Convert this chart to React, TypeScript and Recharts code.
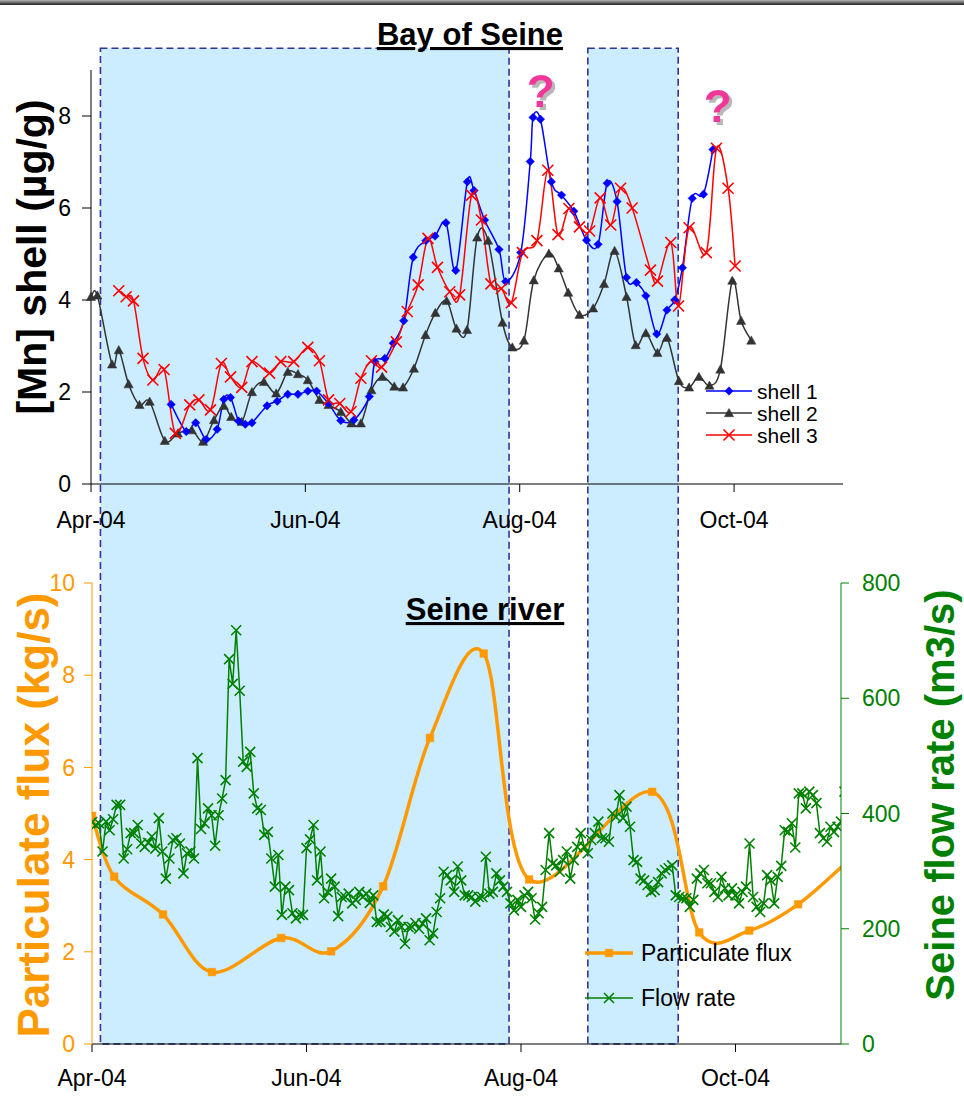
import React from 'react';
import { LineChart, Line, XAxis, YAxis, ReferenceArea, ReferenceDot, Legend, Label } from 'recharts';

const FONT = '"Liberation Sans", Arial, sans-serif';

// x axis: days since 1 April 2004
const monthTicks = [0, 61, 122, 183];
const monthLabels = ['Apr-04', 'Jun-04', 'Aug-04', 'Oct-04'];

// shaded periods (days)
const shadeStart = [2.4, 141];
const shadeEnd = [118.6, 166.7];
const shadeTop = 21.6; // in particulate-flux units, reaches up over the top panel

// Bay of Seine — [Mn] in shells (µg/g)
const shell1Days = [22.8, 27.1, 29.8, 32.8, 35.9, 37.8, 39.7, 42.0, 43.9, 45.8, 50.1, 53.0, 56.0, 58.9, 61.7, 64.2, 67.6, 71.1, 74.8, 79.2, 80.8, 83.6, 86.0, 89.0, 91.7, 95.3, 97.9, 101.0, 103.8, 107.1, 109.0, 112.0, 116.1, 118.0, 122.3, 125.0, 125.8, 127.9, 131.0, 133.9, 137.4, 141.0, 144.3, 146.9, 149.7, 152.4, 155.2, 157.9, 161.0, 163.9, 166.1, 168.3, 171.1, 174.3, 177.0];
const shell1Values = [1.73, 1.14, 1.33, 0.97, 1.19, 1.84, 1.88, 1.37, 1.30, 1.33, 1.70, 1.80, 1.95, 1.95, 2.02, 2.02, 1.75, 1.38, 1.39, 1.90, 2.66, 2.73, 3.06, 3.55, 4.93, 5.29, 5.39, 5.68, 4.64, 6.57, 6.38, 5.74, 5.10, 4.40, 5.03, 7.01, 7.97, 7.93, 6.57, 6.28, 5.93, 5.30, 5.21, 6.54, 6.14, 4.49, 4.38, 4.09, 3.26, 3.78, 4.00, 4.70, 6.21, 6.30, 7.27];

const shell2Days = [0, 1.8, 6.0, 7.9, 10.7, 13.8, 16.7, 21.0, 24.7, 28.7, 31.9, 35.0, 37.8, 39.9, 42.9, 45.8, 49.2, 52.7, 56.0, 58.9, 61.7, 65.0, 67.6, 71.1, 74.1, 76.8, 79.8, 82.9, 86.3, 88.8, 91.9, 95.2, 98.0, 101.2, 104.0, 107.0, 109.9, 113.0, 117.1, 119.9, 123.2, 126.0, 130.3, 133.1, 135.8, 139.0, 142.9, 146.0, 149.0, 152.4, 155.0, 157.9, 161.2, 163.9, 167.3, 170.2, 173.0, 176.0, 179.1, 182.5, 185.0, 187.9];
const shell2Values = [4.07, 4.10, 2.60, 2.91, 2.17, 1.72, 1.79, 0.94, 1.10, 1.17, 0.92, 1.39, 1.70, 1.46, 1.35, 2.00, 2.22, 1.97, 2.44, 2.39, 2.26, 1.83, 1.72, 1.57, 1.32, 1.32, 2.04, 2.33, 2.12, 2.10, 2.51, 3.24, 3.72, 3.98, 3.38, 3.35, 5.36, 5.29, 3.51, 2.97, 3.12, 4.43, 5.01, 4.69, 4.16, 3.68, 3.82, 4.35, 5.07, 4.07, 3.02, 3.28, 2.85, 3.18, 2.24, 2.10, 2.33, 2.14, 2.49, 4.42, 3.55, 3.12];

const shell3Days = [7.9, 10.0, 12.1, 14.8, 17.6, 20.8, 24.0, 28.1, 30.7, 34.0, 37.1, 39.7, 42.9, 45.8, 50.8, 54.0, 57.7, 61.7, 65.0, 67.6, 70.8, 74.0, 76.8, 79.8, 82.7, 86.9, 90.0, 93.1, 95.9, 98.6, 102.1, 104.9, 108.3, 111.1, 113.8, 116.8, 119.6, 122.8, 126.9, 130.0, 132.9, 136.0, 139.0, 141.9, 144.9, 147.9, 150.7, 154.0, 159.2, 161.2, 165.0, 167.2, 170.2, 175.1, 178.0, 181.3, 183.3];
const shell3Values = [4.20, 4.07, 3.98, 2.73, 2.26, 2.49, 1.10, 1.72, 1.83, 1.61, 2.62, 2.33, 2.10, 2.66, 2.41, 2.66, 2.66, 2.97, 2.68, 1.83, 1.75, 1.57, 2.30, 2.68, 2.54, 3.09, 3.75, 4.33, 5.34, 4.71, 4.18, 4.11, 6.28, 5.74, 4.35, 4.25, 3.94, 5.03, 5.29, 6.82, 5.42, 5.99, 5.59, 5.50, 6.22, 5.63, 6.43, 6.00, 4.65, 4.41, 5.25, 3.87, 5.57, 5.03, 7.30, 6.43, 4.74];

// question marks over unexplained peaks
const questionDays = [128, 178.4];
const questionLevels = [8.2, 7.87];

// Seine river — particulate flux (kg/s)
const fluxDays = [0, 6.3, 20.2, 34.1, 53.8, 68.0, 82.8, 96.1, 111.4, 124.3, 159.3, 172.7, 186.9, 200.8, 215];
const fluxValues = [4.95, 3.63, 2.81, 1.56, 2.30, 2.01, 3.42, 6.64, 8.47, 3.57, 5.47, 2.42, 2.46, 3.03, 3.97];

// Seine river — daily flow rate (m3/s), from 1 April 2004
const flowValues = [
  385, 380, 383, 334, 386, 371, 390, 415, 415, 322,
  338, 366, 366, 380, 348, 342, 349, 360, 339, 392,
  334, 287, 322, 354, 357, 348, 296, 331, 334, 322,
  496, 373, 383, 409, 397, 344, 397, 426, 458, 668,
  625, 718, 613, 490, 481, 507, 435, 409, 406, 363,
  368, 322, 273, 328, 224, 273, 267, 227, 218, 224,
  224, 340, 355, 380, 284, 334, 253, 264, 287, 273,
  222, 255, 255, 261, 244, 250, 264, 255, 261, 245,
  258, 212, 212, 225, 221, 203, 195, 215, 203, 174,
  203, 203, 210, 200, 209, 218, 180, 192, 229, 253,
  299, 293, 284, 264, 308, 284, 258, 258, 255, 247,
  255, 255, 325, 261, 264, 296, 284, 273, 264, 244,
  232, 250, 238, 258, 264, 253, 216, 227, 238, 302,
  366, 313, 310, 299, 319, 334, 287, 319, 342, 366,
  342, 331, 354, 366, 386, 357, 357, 351, 400, 394,
  432, 392, 412, 377, 319, 316, 287, 284, 276, 264,
  267, 281, 296, 302, 305, 310, 258, 255, 253, 253,
  238, 250, 287, 296, 302, 279, 279, 264, 255, 290,
  270, 258, 270, 258, 244, 264, 273, 348, 255, 238,
  229, 244, 293, 284, 244, 290, 309, 371, 368, 383,
  341, 435, 435, 409, 438, 432, 418, 366, 357, 351,
  377, 368, 377, 386, 438, 429, 410,
];

const toSeries = (days: number[], values: number[]) => days.map((d, i) => ({ day: d, v: values[i] }));
const shell1Data = toSeries(shell1Days, shell1Values);
const shell2Data = toSeries(shell2Days, shell2Values);
const shell3Data = toSeries(shell3Days, shell3Values);
const fluxData = toSeries(fluxDays, fluxValues);
const flowData = flowValues.map((v, i) => ({ day: i, v }));

const fmt = (d: number) => {
  const i = monthTicks.indexOf(d);
  return i >= 0 ? monthLabels[i] : '';
};

// Excel-like smoothed line (Catmull-Rom through the points)
function excelSmooth(context: any) {
  let pts: number[][] = [];
  return {
    areaStart() {},
    areaEnd() {},
    lineStart() {
      pts = [];
    },
    point(x: number, y: number) {
      pts.push([+x, +y]);
    },
    lineEnd() {
      const n = pts.length;
      if (!n) return;
      context.moveTo(pts[0][0], pts[0][1]);
      for (let i = 0; i < n - 1; i++) {
        const p0 = pts[Math.max(0, i - 1)];
        const p1 = pts[i];
        const p2 = pts[i + 1];
        const p3 = pts[Math.min(n - 1, i + 2)];
        context.bezierCurveTo(
          p1[0] + (p2[0] - p0[0]) / 6,
          p1[1] + (p2[1] - p0[1]) / 6,
          p2[0] - (p3[0] - p1[0]) / 6,
          p2[1] - (p3[1] - p1[1]) / 6,
          p2[0],
          p2[1]
        );
      }
    },
  };
}

// marker shapes
const diamondPath = (cx: number, cy: number, r: number) => `M${cx},${cy - r}L${cx + r},${cy}L${cx},${cy + r}L${cx - r},${cy}Z`;
const trianglePath = (cx: number, cy: number, r: number) => `M${cx},${cy - r}L${cx + r},${cy + r * 0.8}L${cx - r},${cy + r * 0.8}Z`;
const crossPath = (cx: number, cy: number, r: number) => `M${cx - r},${cy - r}L${cx + r},${cy + r}M${cx - r},${cy + r}L${cx + r},${cy - r}`;
const squarePath = (cx: number, cy: number, r: number) => `M${cx - r},${cy - r}H${cx + r}V${cy + r}H${cx - r}Z`;

function Marker({ kind, cx, cy, color }: { kind: string; cx: number; cy: number; color: string }) {
  if (kind === 'diamond') return <path d={diamondPath(cx, cy, 4.2)} fill={color} stroke={color} strokeWidth={0.5} />;
  if (kind === 'triangle') return <path d={trianglePath(cx, cy, 4.6)} fill={color} stroke={color} strokeWidth={0.5} />;
  if (kind === 'square') return <path d={squarePath(cx, cy, 3.8)} fill={color} stroke={color} strokeWidth={0.5} />;
  return <path d={crossPath(cx, cy, kind === 'bigcross' ? 5.5 : 5)} fill="none" stroke={color} strokeWidth={1.6} />;
}

const makeDot = (kind: string, color: string) => (props: any) => {
  const { cx, cy, index } = props;
  if (cx == null || cy == null || isNaN(cx) || isNaN(cy)) return <g key={`e-${kind}-${index}`} />;
  return (
    <g key={`m-${kind}-${index}`}>
      <Marker kind={kind} cx={cx} cy={cy} color={color} />
    </g>
  );
};

const topLegendItems = [
  { name: 'shell 1', color: '#0000FF', kind: 'diamond' },
  { name: 'shell 2', color: '#333333', kind: 'triangle' },
  { name: 'shell 3', color: '#FF0000', kind: 'bigcross' },
];

const bottomLegendItems = [
  { name: 'Particulate flux', color: '#FF9900', kind: 'square', width: 3.5 },
  { name: 'Flow rate', color: '#008000', kind: 'cross', width: 1.5 },
];

const TopLegend = () => (
  <svg width={140} height={70} style={{ overflow: 'visible' }}>
    {topLegendItems.map((it, i) => {
      const y = 11 + i * 22;
      return (
        <g key={it.name}>
          <line x1={0} x2={46} y1={y} y2={y} stroke={it.color} strokeWidth={1.5} />
          <Marker kind={it.kind} cx={23} cy={y} color={it.color} />
          <text x={51} y={y} dy="0.36em" fontSize={21} fontFamily={FONT} fill="#000">
            {it.name}
          </text>
        </g>
      );
    })}
  </svg>
);

const BottomLegend = () => (
  <svg width={240} height={90} style={{ overflow: 'visible' }}>
    {bottomLegendItems.map((it, i) => {
      const y = 18 + i * 45;
      return (
        <g key={it.name}>
          <line x1={1} x2={49} y1={y} y2={y} stroke={it.color} strokeWidth={it.width} />
          <Marker kind={it.kind} cx={25} cy={y} color={it.color} />
          <text x={57} y={y} dy="0.36em" fontSize={23} fontFamily={FONT} fill="#000">
            {it.name}
          </text>
        </g>
      );
    })}
  </svg>
);

const questionMark = (props: any) => {
  const { cx, cy } = props;
  return (
    <g>
      <defs>
        <filter id="qshadow" x="-50%" y="-50%" width="200%" height="200%">
          <feDropShadow dx={3} dy={3} stdDeviation={0.6} floodColor="#b8b8b8" floodOpacity={1} />
        </filter>
      </defs>
      <text x={cx} y={cy} textAnchor="middle" fontSize={46} fontWeight="bold" fontFamily={FONT} fill="#F0399B" filter="url(#qshadow)">?</text>
    </g>
  );
};

const axisTick = (color: string) => ({ fontSize: 23, fill: color, fontFamily: FONT });

function TopChart() {
  return (
    <LineChart width={964} height={540} margin={{ top: 70, right: 121, bottom: 0, left: 0 }}>
      <XAxis
        type="number"
        dataKey="day"
        domain={[0, 214]}
        ticks={monthTicks}
        interval={0}
        tickFormatter={fmt}
        height={56}
        stroke="#000"
        tickSize={8}
        tickMargin={20}
        tick={axisTick('#000')}
      />
      <YAxis
        type="number"
        domain={[0, 9]}
        ticks={[0, 2, 4, 6, 8]}
        interval={0}
        width={91}
        stroke="#000"
        tickSize={9}
        tickMargin={11}
        tick={axisTick('#000')}
      >
        <Label
          content={() => (
            <g>
              <text x={470} y={45} textAnchor="middle" fontSize={31} fontWeight="bold" fontFamily={FONT} fill="#000" textDecoration="underline">
                Bay of Seine
              </text>
              <text x={31} y={257} transform="rotate(-90 31 257)" textAnchor="middle" dy="0.36em" fontSize={41} fontWeight="bold" fontFamily={FONT} fill="#000">
                [Mn] shell (µg/g)
              </text>
            </g>
          )}
        />
      </YAxis>
      <Legend
        layout="vertical"
        align="center"
        verticalAlign="middle"
        content={() => <TopLegend />}
        wrapperStyle={{ left: 706, top: 380, width: 140, height: 70 }}
      />
      <Line data={shell2Data} dataKey="v" type={excelSmooth as any} stroke="#333333" strokeWidth={1.5} dot={makeDot('triangle', '#333333')} isAnimationActive={false} />
      <Line data={shell1Data} dataKey="v" type={excelSmooth as any} stroke="#0000FF" strokeWidth={1.5} dot={makeDot('diamond', '#0000FF')} isAnimationActive={false} />
      <Line data={shell3Data} dataKey="v" type={excelSmooth as any} stroke="#FF0000" strokeWidth={1.5} dot={makeDot('bigcross', '#FF0000')} isAnimationActive={false} />
      {questionDays.map((d, i) => (
        <ReferenceDot key={`q${i}`} x={d} y={questionLevels[i]} r={0} ifOverflow="visible" shape={questionMark} />
      ))}
    </LineChart>
  );
}

function BottomChart() {
  return (
    <LineChart width={964} height={1096} margin={{ top: 583, right: 0, bottom: 0, left: 0 }}>
      <XAxis
        type="number"
        dataKey="day"
        domain={[0, 213]}
        allowDataOverflow
        ticks={monthTicks}
        interval={0}
        tickFormatter={fmt}
        height={52}
        stroke="#000"
        tickSize={8}
        tickMargin={18}
        tick={axisTick('#000')}
      />
      <YAxis
        yAxisId="flux"
        orientation="left"
        type="number"
        domain={[0, 10]}
        ticks={[0, 2, 4, 6, 8, 10]}
        interval={0}
        width={92}
        stroke="#FF9900"
        tickSize={8}
        tickMargin={9}
        tick={axisTick('#FF9900')}
      >
        <Label
          content={() => (
            <g>
              <text x={485} y={620} textAnchor="middle" fontSize={31} fontWeight="bold" fontFamily={FONT} fill="#000" textDecoration="underline">
                Seine river
              </text>
              <text x={33} y={815} transform="rotate(-90 33 815)" textAnchor="middle" dy="0.36em" fontSize={44} fontWeight="bold" fontFamily={FONT} fill="#FF9900">
                Particulate flux (kg/s)
              </text>
            </g>
          )}
        />
      </YAxis>
      <YAxis
        yAxisId="flow"
        orientation="right"
        type="number"
        domain={[0, 800]}
        ticks={[0, 200, 400, 600, 800]}
        interval={0}
        width={123}
        stroke="#008000"
        tickSize={8}
        tickMargin={13}
        tick={axisTick('#008000')}
      >
        <Label
          content={() => (
            <text x={940} y={795} transform="rotate(-90 940 795)" textAnchor="middle" dy="0.36em" fontSize={40} fontWeight="bold" fontFamily={FONT} fill="#008000">
              Seine flow rate (m3/s)
            </text>
          )}
        />
      </YAxis>
      {shadeStart.map((s, i) => (
        <ReferenceArea
          key={`shade${i}`}
          yAxisId="flux"
          x1={s}
          x2={shadeEnd[i]}
          y1={0}
          y2={shadeTop}
          ifOverflow="visible"
          fill="#CCECFF"
          fillOpacity={1}
          stroke="#333399"
          strokeWidth={1.6}
          strokeDasharray="7 4"
        />
      ))}
      <Legend
        layout="vertical"
        align="center"
        verticalAlign="middle"
        content={() => <BottomLegend />}
        wrapperStyle={{ left: 584, top: 935, width: 240, height: 90 }}
      />
      <Line yAxisId="flux" data={fluxData} dataKey="v" type={excelSmooth as any} stroke="#FF9900" strokeWidth={3.5} dot={makeDot('square', '#FF9900')} isAnimationActive={false} />
      <Line yAxisId="flow" data={flowData} dataKey="v" type="linear" stroke="#008000" strokeWidth={1.5} dot={makeDot('cross', '#008000')} isAnimationActive={false} />
    </LineChart>
  );
}

export default function App() {
  return (
    <div style={{ position: 'absolute', left: 0, top: 0, width: 964, height: 1096, background: '#fff', overflow: 'hidden', fontFamily: FONT }}>
      <div style={{ position: 'absolute', left: 0, top: 0 }}>
        <BottomChart />
      </div>
      <div style={{ position: 'absolute', left: 0, top: 0 }}>
        <TopChart />
      </div>
      <div style={{ position: 'absolute', left: 0, top: 0, width: 964, height: 5, background: 'linear-gradient(#b4b4b4, #6a6a6a 50%, #1e1e1e)' }} />
    </div>
  );
}
